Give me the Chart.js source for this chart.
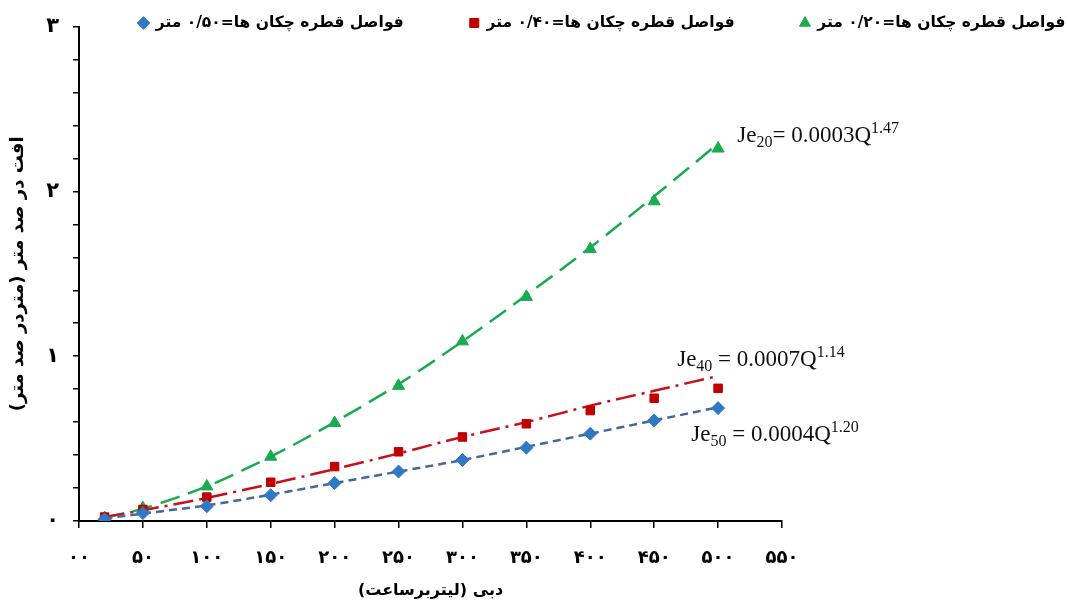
<!DOCTYPE html>
<html>
<head>
<meta charset="utf-8">
<script src="https://cdn.jsdelivr.net/npm/chart.js@4/dist/chart.umd.min.js"></script>
<style>
  body { margin: 0; background: #fff; }
  #wrap { width: 1068px; height: 600px; }
</style>
</head>
<body>
<div id="wrap"><canvas id="chart" width="1068" height="600"></canvas></div>
<script>
// Data
const flows = [20, 50, 100, 150, 200, 250, 300, 350, 400, 450, 500];
const loss50 = [0.01, 0.048, 0.09, 0.157, 0.23, 0.30, 0.37, 0.445, 0.53, 0.61, 0.685];
const loss40 = [0.024, 0.07, 0.145, 0.235, 0.33, 0.42, 0.51, 0.59, 0.67, 0.745, 0.805];
const loss20 = [0.018, 0.078, 0.21, 0.39, 0.595, 0.82, 1.09, 1.36, 1.65, 1.94, 2.26];
// fitted trend curves as they appear in the picture
const trend50 = [0.015, 0.045, 0.095, 0.16, 0.23, 0.30, 0.37, 0.45, 0.53, 0.61, 0.69];
const trend40 = [0.025, 0.065, 0.14, 0.225, 0.315, 0.41, 0.51, 0.60, 0.70, 0.79, 0.88];
const trend20 = [0.02, 0.075, 0.21, 0.39, 0.60, 0.83, 1.09, 1.37, 1.66, 1.97, 2.29];

const seriesNames = [
    'فواصل قطره چکان ها=۰/۵۰ متر',
    'فواصل قطره چکان ها=۰/۴۰ متر',
    'فواصل قطره چکان ها=۰/۲۰ متر'
];
const xTickLabels = ['۰۰', '۵۰', '۱۰۰', '۱۵۰', '۲۰۰', '۲۵۰', '۳۰۰', '۳۵۰', '۴۰۰', '۴۵۰', '۵۰۰', '۵۵۰'];
const yTickLabels = ['۰', '۱', '۲', '۳'];
const xTitle = 'دبی (لیتربرساعت)';
const yTitle = 'افت در صد متر (متردر صد متر)';

// equation labels: [main, subscript, middle, superscript, x, y]
const equations = [
    ['Je', '20', '= 0.0003Q', '1.47', 515, 2.35],
    ['Je', '40', ' = 0.0007Q', '1.14', 468, 0.99],
    ['Je', '50', ' = 0.0004Q', '1.20', 479, 0.535]
];

const pts = ys => flows.map((x, i) => ({ x: x, y: ys[i] }));

Chart.defaults.font.family = "'DejaVu Sans', sans-serif";
Chart.defaults.color = '#000';

const markerSet = (label, ys, color, style, r) => ({
    label: label,
    data: pts(ys),
    showLine: false,
    pointStyle: style,
    pointRadius: r,
    pointBackgroundColor: color,
    pointBorderColor: color,
    backgroundColor: color,
    borderColor: color,
    borderWidth: 1
});

const trendSet = (ys, color, dash) => ({
    label: 'trend',
    data: pts(ys),
    showLine: true,
    pointRadius: 0,
    borderColor: color,
    borderWidth: 2.5,
    borderDash: dash,
    tension: 0.3,
    fill: false
});

// the legend sits over the top of the plot in the picture: no layout height,
// then moved into place once the layout is done
const LEGEND_LEFT = 139;
const LEGEND_MID_Y = 23;
const legendTweak = {
    id: 'legendTweak',
    afterInit(chart) {
        const lg = chart.legend;
        const fit = lg.fit;
        lg.fit = function () { fit.call(this); this.height = 0; };
    },
    afterLayout(chart) {
        const lg = chart.legend;
        const pad = lg.options.labels.padding;
        const fs = lg.options.labels.font.size;
        lg.left = LEGEND_LEFT - pad;
        lg.right = 3000;
        lg.top = LEGEND_MID_Y - fs / 2 - pad;
        lg.bottom = LEGEND_MID_Y + 20;
        lg.width = lg.right - lg.left;
        lg.height = lg.bottom - lg.top;
    }
};

const equationLabels = {
    id: 'equationLabels',
    afterDraw(chart) {
        const ctx = chart.ctx;
        const xs = chart.scales.x, ys = chart.scales.y;
        ctx.save();
        ctx.fillStyle = '#111';
        ctx.textBaseline = 'alphabetic';
        ctx.textAlign = 'left';
        equations.forEach(eq => {
            let x = xs.getPixelForValue(eq[4]);
            const y = ys.getPixelForValue(eq[5]) + 8;
            ctx.font = "23px 'Liberation Serif', serif";
            ctx.fillText(eq[0], x, y);
            x += ctx.measureText(eq[0]).width;
            ctx.font = "16px 'Liberation Serif', serif";
            ctx.fillText(eq[1], x, y + 5);
            x += ctx.measureText(eq[1]).width;
            ctx.font = "23px 'Liberation Serif', serif";
            ctx.fillText(eq[2], x, y);
            x += ctx.measureText(eq[2]).width;
            ctx.font = "16px 'Liberation Serif', serif";
            ctx.fillText(eq[3], x, y - 9);
        });
        ctx.restore();
    }
};

new Chart(document.getElementById('chart'), {
    type: 'scatter',
    data: {
        datasets: [
            markerSet(seriesNames[0], loss50, '#2f78c4', 'rectRot', 6.5),
            markerSet(seriesNames[1], loss40, '#c00000', 'rect', 6),
            markerSet(seriesNames[2], loss20, '#1aab50', 'triangle', 7),
            trendSet(trend50, '#44679f', [8, 5]),
            trendSet(trend40, '#c8101a', [20, 6, 3, 6]),
            trendSet(trend20, '#1aab50', [20, 9])
        ]
    },
    options: {
        responsive: false,
        animation: false,
        layout: { padding: { left: 0, right: 0, top: 22, bottom: 0 } },
        plugins: {
            legend: {
                position: 'top',
                align: 'start',
                labels: {
                    usePointStyle: true,
                    boxWidth: 9,
                    boxHeight: 9,
                    padding: 66,
                    font: { size: 15.5, weight: 'bold' },
                    filter: item => item.text !== 'trend'
                }
            },
            tooltip: { enabled: false }
        },
        scales: {
            x: {
                type: 'linear',
                min: 0,
                max: 550,
                afterFit: s => { s.height = 79; },
                ticks: {
                    stepSize: 50,
                    autoSkip: false,
                    maxRotation: 0,
                    padding: 20,
                    font: { size: 18, weight: 'bold' },
                    callback: (v, i) => xTickLabels[i]
                },
                grid: { display: true, drawOnChartArea: false, drawTicks: true, tickLength: 7, color: '#000', lineWidth: 1.5 },
                border: { display: true, color: '#000', width: 2 },
                title: {
                    display: true,
                    text: xTitle,
                    font: { size: 16, weight: 'bold' },
                    padding: { top: 0, bottom: 0 }
                }
            },
            y: {
                min: 0,
                max: 3,
                afterFit: s => { s.width = 79; },
                ticks: {
                    stepSize: 0.2,
                    autoSkip: false,
                    padding: 14,
                    font: { size: 21, weight: 'bold' },
                    callback: v => Math.abs(v - Math.round(v)) < 1e-6 ? yTickLabels[Math.round(v)] : ''
                },
                grid: { display: true, drawOnChartArea: false, drawTicks: true, tickLength: 6, color: '#000', lineWidth: 1.5 },
                border: { display: true, color: '#000', width: 2 },
                title: {
                    display: true,
                    text: yTitle,
                    font: { size: 18, weight: 'bold' },
                    padding: { top: 8, bottom: 0 }
                }
            },
            yRight: {
                position: 'right',
                min: 0,
                max: 1,
                afterFit: s => { s.width = 286; },
                ticks: { display: false },
                grid: { display: false },
                border: { display: false }
            }
        }
    },
    plugins: [legendTweak, equationLabels]
});
</script>
</body>
</html>
